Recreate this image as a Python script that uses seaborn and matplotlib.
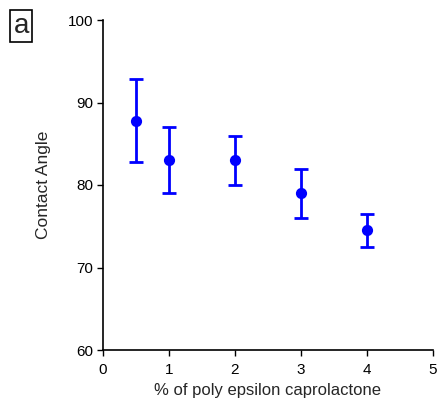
import matplotlib
matplotlib.use("Agg")
import matplotlib.pyplot as plt
import seaborn as sns
import pandas as pd

# data
pcl_percent = [0.5, 1, 2, 3, 4]
contact_angle = [87.8, 83.0, 83.0, 79.0, 74.5]
angle_err = [5.0, 4.0, 3.0, 3.0, 2.0]

df = pd.DataFrame({"pcl": pcl_percent, "angle": contact_angle, "err": angle_err})

sns.set_theme(style="ticks")
plt.rcParams["font.family"] = ["Liberation Sans", "DejaVu Sans"]

fig = plt.figure(figsize=(4.39, 4.0), dpi=100)
ax = fig.add_axes([0.2346, 0.125, 0.7514, 0.825])

blue = "#0000ff"
ax.errorbar(df["pcl"], df["angle"], yerr=df["err"], fmt="none",
            ecolor=blue, elinewidth=2, capsize=5, capthick=2, zorder=2)
sns.scatterplot(data=df, x="pcl", y="angle", color=blue, s=65,
                edgecolor=blue, linewidth=0, ax=ax, zorder=3)

ax.set_xlim(0, 5)
ax.set_ylim(60, 100)
ax.set_xticks(range(0, 6))
ax.set_yticks(range(60, 101, 10))
ax.set_xlabel("% of poly epsilon caprolactone", fontsize=12, labelpad=5)
ax.set_ylabel("Contact Angle", fontsize=12.5, labelpad=12)
ax.tick_params(labelsize=11, length=4, width=1, colors="black", pad=3)
ax.tick_params(axis="x", pad=5)
for side in ["left", "bottom"]:
    ax.spines[side].set_linewidth(1.2)
    ax.spines[side].set_color("black")
sns.despine(ax=ax)

fig.text(0.048, 0.935, "a", fontsize=20, ha="center", va="center",
         bbox=dict(boxstyle="square,pad=0.12", fc="white", ec="black", lw=1.2))

plt.savefig("out.png", dpi=100)
